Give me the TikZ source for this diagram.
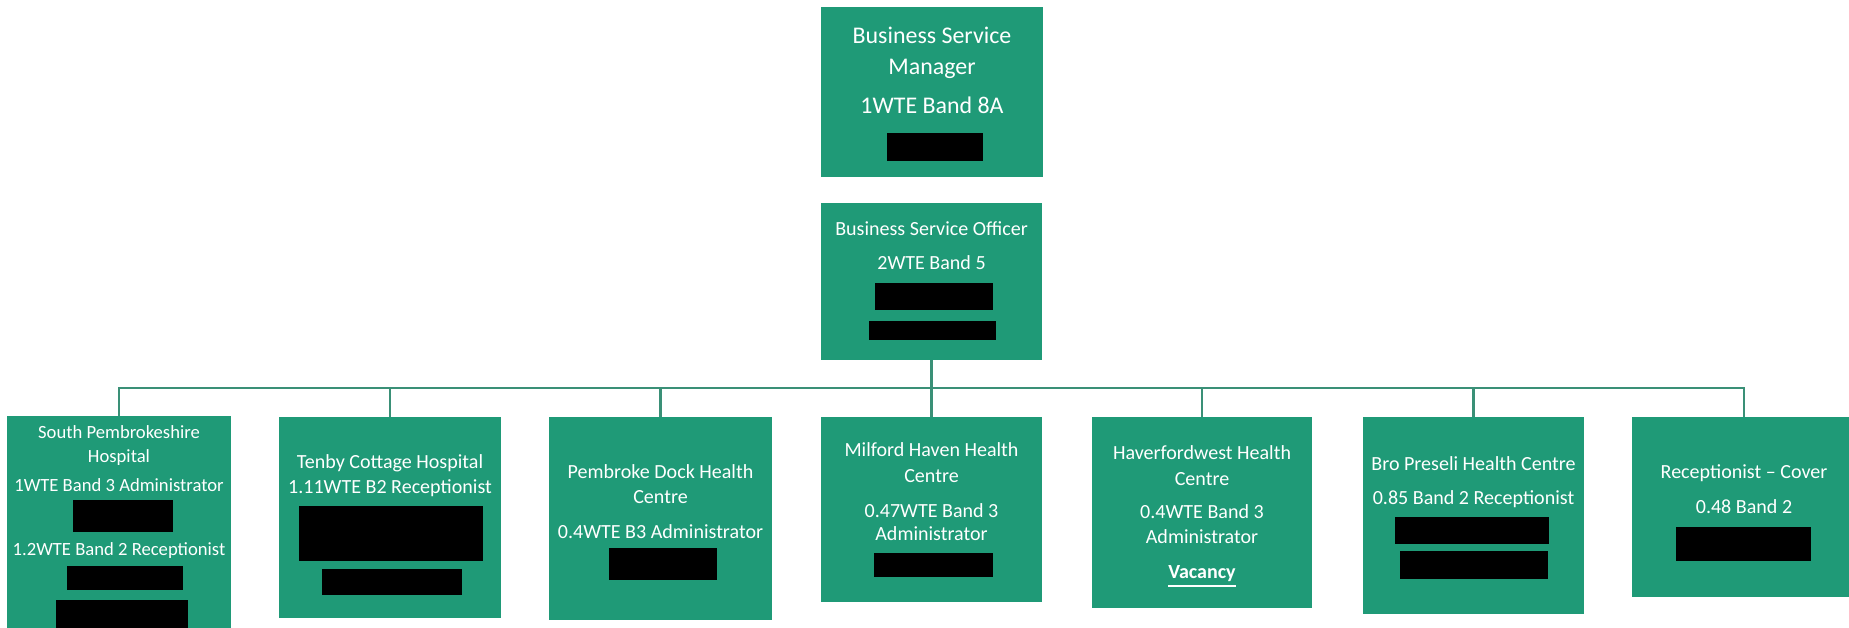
\documentclass[tikz,border=0pt]{standalone}
\usepackage{fontspec}
\setmainfont{Carlito}
\definecolor{boxgreen}{HTML}{1F9A77}
\definecolor{linkgreen}{HTML}{3A9077}
\begin{document}
\begin{tikzpicture}[x=0.01cm, y=-0.01cm,
    unit/.style={fill=boxgreen, inner sep=0, outer sep=0},
    txt/.style={text=white, anchor=base, inner sep=0, font=\fontsize{5.7}{6.8}\selectfont},
    bigtxt/.style={txt, font=\fontsize{6.8}{8}\selectfont},
    smalltxt/.style={txt, font=\fontsize{5.3}{6.4}\selectfont},
    link/.style={draw=linkgreen, line width=0.7pt},
    redact/.style={fill=black}]
\useasboundingbox (0,0) rectangle (1849,627);
% boxes
\node[unit, minimum width=2.22cm, minimum height=1.70cm] (bsm) at (932,92) {};
\node[unit, minimum width=2.21cm, minimum height=1.57cm] (bso) at (931.5,281.5) {};
\foreach \n/\x/\y/\w/\h in {sph/119/560/2.24/2.88, tch/390/517.5/2.22/2.01,
    pdh/660.5/518.5/2.23/2.03, mhh/931.5/509.5/2.21/1.85, hhc/1202/512.5/2.20/1.91,
    bph/1473.5/515.5/2.21/1.97, rcv/1744/507/2.24/1.80}
  \node[unit, minimum width=\w cm, minimum height=\h cm] (\n) at (\x,\y) {};
% connectors
\path (bso.south) ++(0,28) coordinate (bar);
\draw[link] (bso.south) -- (bar);
\foreach \n in {sph,tch,pdh,mhh,hhc,bph,rcv}
  \draw[link] (bar) -| (\n.north);
% redacted names
\foreach \a/\b/\c/\d in {887/133/983/161, 875/283/993/310, 869/321/996/340,
    73/500/173/532, 67/566/183/590, 56/600/188/700, 299/506/483/561, 322/569/462/595,
    609/548/717/580, 874/553/993/577, 1395/517/1549/544, 1400/551/1548/579,
    1676/527/1811/561}
  \fill[redact] (\a,\b) rectangle (\c,\d);
% texts
\node[bigtxt] (bsm1) at (932,43) {Business Service};
\node[bigtxt] (bsm2) at (932,74) {Manager};
\node[bigtxt] (bsm3) at (932,113) {1WTE Band 8A};
\node[txt] (bso1) at (931.5,235) {Business Service Officer};
\node[txt] (bso2) at (931.5,269) {2WTE Band 5};
\node[smalltxt] (sph1) at (119,438) {South Pembrokeshire};
\node[smalltxt] (sph2) at (119,462) {Hospital};
\node[smalltxt] (sph3) at (119,491) {1WTE Band 3 Administrator};
\node[smalltxt] (sph4) at (119,555) {1.2WTE Band 2 Receptionist};
\node[txt] (tch1) at (390,468) {Tenby Cottage Hospital};
\node[txt] (tch2) at (390,493) {1.11WTE B2 Receptionist};
\node[txt] (pdh1) at (660.5,478) {Pembroke Dock Health};
\node[txt] (pdh2) at (660.5,503) {Centre};
\node[txt] (pdh3) at (660.5,538) {0.4WTE B3 Administrator};
\node[txt] (mhh1) at (931.5,456) {Milford Haven Health};
\node[txt] (mhh2) at (931.5,482) {Centre};
\node[txt] (mhh3) at (931.5,517) {0.47WTE Band 3};
\node[txt] (mhh4) at (931.5,540) {Administrator};
\node[txt] (hhc1) at (1202,459) {Haverfordwest Health};
\node[txt] (hhc2) at (1202,485) {Centre};
\node[txt] (hhc3) at (1202,518) {0.4WTE Band 3};
\node[txt] (hhc4) at (1202,543) {Administrator};
\node[txt] (hhc5) at (1202,578) {\underline{\textbf{Vacancy}}};
\node[txt] (bph1) at (1473.5,470) {Bro Preseli Health Centre};
\node[txt] (bph2) at (1473.5,504) {0.85 Band 2 Receptionist};
\node[txt] (rcv1) at (1744,478) {Receptionist – Cover};
\node[txt] (rcv2) at (1744,513) {0.48 Band 2};
\end{tikzpicture}
\end{document}
